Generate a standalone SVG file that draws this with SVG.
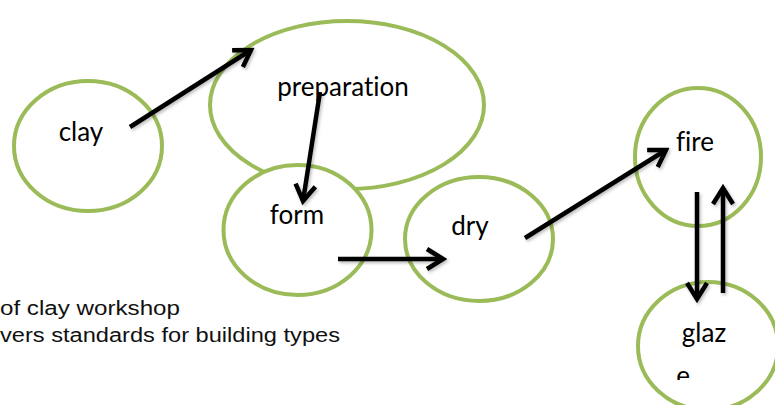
<svg xmlns="http://www.w3.org/2000/svg" width="775" height="405" viewBox="0 0 775 405">
  <style>
    .node ellipse { fill: #ffffff; stroke: #9bbb59; stroke-width: 4; }
    .label { font-family: Lato, "Open Sans", sans-serif; font-size: 26px; fill: #000000; text-anchor: middle; font-variant-ligatures: none; }
    .note { font-family: "Liberation Sans", Arial, sans-serif; font-size: 20px; fill: #111111; }
    .edge { stroke: #000000; stroke-width: 4.5; fill: none; marker-end: url(#head); filter: url(#shade); }
  </style>
  <defs>
    <!-- open chevron arrowhead -->
    <marker id="head" viewBox="-20 -13 24 26" refX="0" refY="0" markerWidth="24" markerHeight="26" markerUnits="userSpaceOnUse" orient="auto">
      <path d="M-16,-10 L0,0 L-16,10" fill="none" stroke="#000000" stroke-width="4.5" stroke-linecap="butt" stroke-linejoin="miter"/>
    </marker>
    <filter id="shade" filterUnits="userSpaceOnUse" x="0" y="0" width="775" height="405">
      <feDropShadow dx="1.5" dy="2" stdDeviation="1.5" flood-color="#000000" flood-opacity="0.25"/>
    </filter>
    <clipPath id="glazeClip">
      <rect x="600" y="280" width="175" height="100"/>
    </clipPath>
  </defs>

  <!-- caption lines -->
  <text class="note" x="0" y="315" textLength="180" lengthAdjust="spacingAndGlyphs">of clay workshop</text>
  <text class="note" x="0" y="342" textLength="340" lengthAdjust="spacingAndGlyphs">vers standards for building types</text>

  <g id="clay" class="node">
    <ellipse cx="88" cy="146" rx="74" ry="65"/>
    <text class="label" x="81" y="141">clay</text>
  </g>

  <g id="preparation" class="node">
    <ellipse cx="347" cy="105" rx="137" ry="84"/>
    <text class="label" x="343" y="96">preparation</text>
  </g>

  <g id="form" class="node">
    <ellipse cx="297.5" cy="230" rx="74" ry="65"/>
    <text class="label" x="297" y="224">form</text>
  </g>

  <g id="dry" class="node">
    <ellipse cx="479" cy="239" rx="74" ry="62"/>
    <text class="label" x="470" y="235">dry</text>
  </g>

  <g id="fire" class="node">
    <ellipse cx="698" cy="157" rx="63" ry="69"/>
    <text class="label" x="695" y="151">fire</text>
  </g>

  <g id="glaze" class="node">
    <ellipse cx="708" cy="346" rx="70" ry="64"/>
    <text class="label" x="704" y="342" clip-path="url(#glazeClip)">glaz</text>
    <text class="label" x="683" y="385" text-anchor="start" clip-path="url(#glazeClip)">e</text>
  </g>

  <g id="connectors">
    <line class="edge" x1="130" y1="127" x2="251" y2="50"/>
    <line class="edge" x1="320" y1="92" x2="303" y2="201"/>
    <line class="edge" x1="338" y1="259" x2="443" y2="259"/>
    <line class="edge" x1="525" y1="238" x2="666" y2="150"/>
    <line class="edge" x1="697" y1="192" x2="697" y2="299"/>
    <line class="edge" x1="723" y1="293" x2="723" y2="188"/>
  </g>
</svg>
